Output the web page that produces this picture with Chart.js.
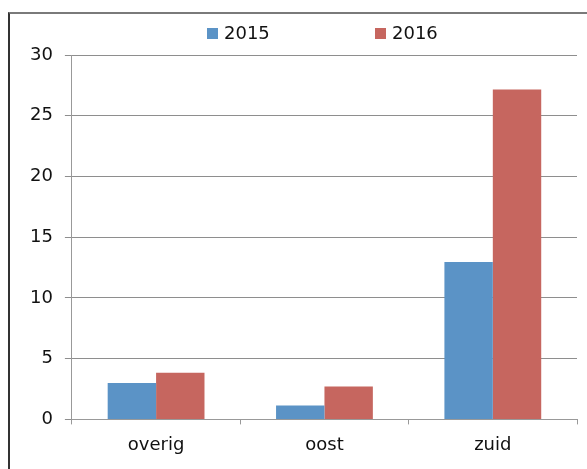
<!DOCTYPE html>
<html>
<head>
<meta charset="utf-8">
<script src="https://cdn.jsdelivr.net/npm/chart.js@4"></script>
<style>
  html, body { margin: 0; padding: 0; background: #fff; }
  #wrap { position: relative; width: 587px; height: 469px; }
  #frame { position: absolute; left: 8px; top: 12px; right: 0; bottom: 0;
           border-top: 2px solid #7a7a7a; border-left: 2px solid #333; }
  canvas { position: absolute; left: 0; top: 0; }
</style>
</head>
<body>
<div id="wrap">
  <div id="frame"></div>
  <canvas id="barChartCanvas" width="587" height="469"></canvas>
</div>
<script>
var categories = ['overig', 'oost', 'zuid'];
var seriesNames = ['2015', '2016'];
var values2015 = [3.0, 1.15, 12.95];
var values2016 = [3.85, 2.7, 27.15];
var yTicks = [0, 5, 10, 15, 20, 25, 30];

var seriesColors = ['#5b93c6', '#c6665f'];
var fontFamily = '"DejaVu Sans", Verdana, sans-serif';

// legend spread out like the original, drawn with the dataset colours
var spreadLegend = {
  id: 'spreadLegend',
  afterDraw: function(chart) {
    var ctx = chart.ctx;
    var xs = [207, 375];
    ctx.save();
    ctx.font = '18px ' + fontFamily;
    ctx.textBaseline = 'middle';
    chart.data.datasets.forEach(function(ds, i) {
      ctx.fillStyle = ds.backgroundColor;
      ctx.fillRect(xs[i], 28, 11, 11);
      ctx.fillStyle = '#111';
      ctx.fillText(ds.label, xs[i] + 17, 34);
    });
    ctx.restore();
  }
};

var ctx = document.getElementById('barChartCanvas').getContext('2d');
var barChart = new Chart(ctx, {
  type: 'bar',
  data: {
    labels: categories,
    datasets: [{
      label: seriesNames[0],
      data: values2015,
      backgroundColor: seriesColors[0]
    }, {
      label: seriesNames[1],
      data: values2016,
      backgroundColor: seriesColors[1]
    }]
  },
  options: {
    responsive: false,
    animation: false,
    layout: { padding: { left: 18, right: 10, top: 55, bottom: 3 } },
    plugins: {
      legend: { display: false },
      tooltip: { enabled: false }
    },
    datasets: {
      bar: { barPercentage: 1, categoryPercentage: 0.575 }
    },
    scales: {
      x: {
        grid: { drawOnChartArea: false, drawTicks: true, tickLength: 5, color: '#999', offset: true },
        border: { color: '#999', width: 1 },
        ticks: { color: '#111', font: { family: fontFamily, size: 18 }, padding: 10 }
      },
      y: {
        min: 0,
        max: 30,
        afterBuildTicks: function(axis) {
          axis.ticks = yTicks.map(function(v) { return { value: v }; });
        },
        grid: { color: '#8e8e8e', tickLength: 7 },
        border: { color: '#999', width: 1 },
        ticks: { color: '#111', font: { family: fontFamily, size: 18 }, padding: 12 }
      }
    }
  },
  plugins: [spreadLegend]
});
</script>
</body>
</html>
